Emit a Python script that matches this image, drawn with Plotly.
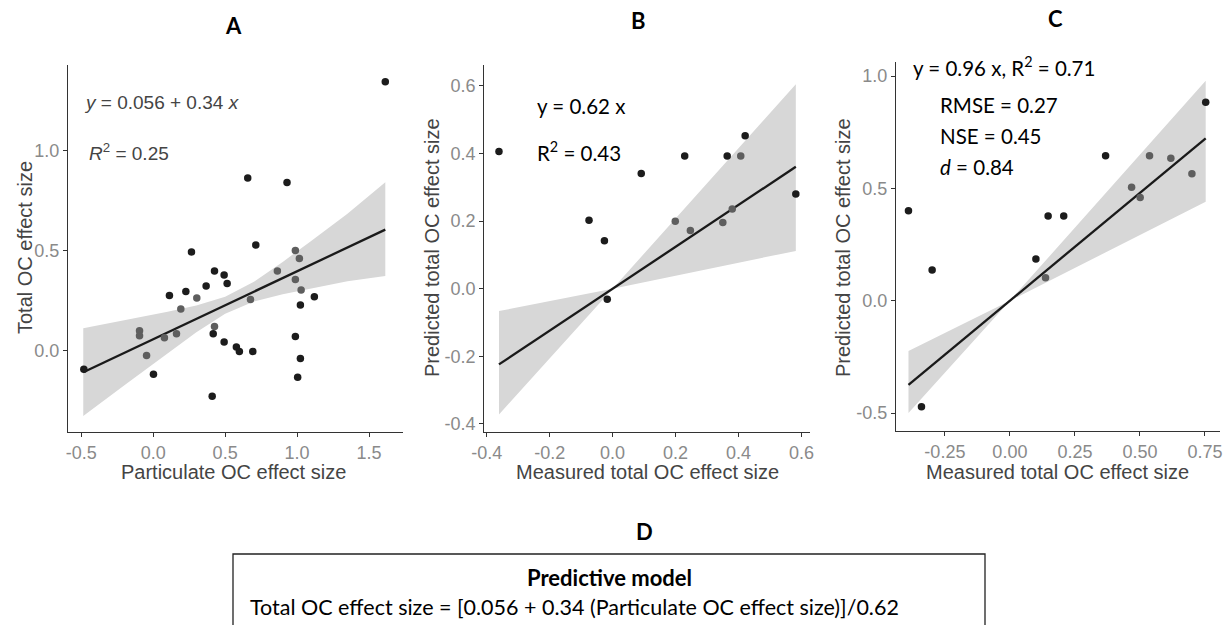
import plotly.graph_objects as go

W, H = 1226, 625

# ---------------- data ----------------
# Panel A: Total OC vs particulate OC
a_black_x = [0.657, 0.93, 0.713, 0.266, 0.426, 0.493, 0.514, 0.368, 0.227, 0.113, 1.12, 1.023,
             0.417, 0.988, 0.493, 0.578, 0.599, 0.692, 1.023, 0.002, 1.004, 0.41, -0.482, 1.613]
a_black_y = [0.863, 0.84, 0.527, 0.493, 0.398, 0.377, 0.335, 0.322, 0.295, 0.275, 0.268, 0.227,
             0.083, 0.07, 0.042, 0.017, -0.005, -0.005, -0.04, -0.12, -0.135, -0.23, -0.095, 1.345]
a_gray_x = [0.988, 1.016, 0.863, 0.988, 1.028, 0.303, 0.676, 0.192, 0.426, -0.095, -0.095, 0.162, 0.078, -0.046]
a_gray_y = [0.50, 0.46, 0.398, 0.355, 0.302, 0.262, 0.255, 0.207, 0.12, 0.098, 0.073, 0.083, 0.063, -0.025]
a_intercept, a_slope = 0.056, 0.34
a_line_x = [-0.486, 1.613]
a_band_x = [-0.486, -0.2, 0.1, 0.3, 0.5, 0.7, 0.9, 1.1, 1.35, 1.613]
a_band_up = [0.111, 0.151, 0.194, 0.225, 0.268, 0.343, 0.443, 0.549, 0.684, 0.842]
a_band_lo = [-0.329, -0.175, -0.014, 0.091, 0.184, 0.245, 0.281, 0.311, 0.346, 0.372]

# Panel B: predicted vs measured total OC
b_black_x = [-0.361, -0.075, -0.026, -0.017, 0.091, 0.229, 0.364, 0.421, 0.582]
b_black_y = [0.406, 0.203, 0.142, -0.031, 0.341, 0.393, 0.393, 0.453, 0.28]
b_gray_x = [0.199, 0.247, 0.35, 0.38, 0.407]
b_gray_y = [0.20, 0.172, 0.196, 0.236, 0.393]
b_slope = 0.62
b_line_x = [-0.361, 0.582]
b_band_x = [-0.361, 0.0, 0.582]
b_band_up = [-0.066, 0.0, 0.605]
b_band_lo = [-0.372, 0.0, 0.112]

# Panel C: predicted vs measured total OC (validation)
c_black_x = [-0.39, -0.299, 0.10, 0.147, 0.207, 0.368, 0.753, -0.34]
c_black_y = [0.40, 0.137, 0.186, 0.377, 0.377, 0.645, 0.884, -0.472]
c_gray_x = [0.137, 0.468, 0.501, 0.537, 0.619, 0.70]
c_gray_y = [0.102, 0.505, 0.46, 0.645, 0.634, 0.565]
c_slope = 0.96
c_line_x = [-0.39, 0.753]
c_band_x = [-0.39, 0.0, 0.753]
c_band_up = [-0.224, 0.0, 0.979]
c_band_lo = [-0.50, 0.0, 0.44]

# tick labels
a_xticks = [-0.5, 0.0, 0.5, 1.0, 1.5]
a_xtext = ["-0.5", "0.0", "0.5", "1.0", "1.5"]
a_yticks = [0.0, 0.5, 1.0]
a_ytext = ["0.0", "0.5", "1.0"]
b_xticks = [-0.4, -0.2, 0.0, 0.2, 0.4, 0.6]
b_xtext = ["-0.4", "-0.2", "0.0", "0.2", "0.4", "0.6"]
b_yticks = [-0.4, -0.2, 0.0, 0.2, 0.4, 0.6]
b_ytext = ["-0.4", "-0.2", "0.0", "0.2", "0.4", "0.6"]
c_xticks = [-0.25, 0.0, 0.25, 0.5, 0.75]
c_xtext = ["-0.25", "0.00", "0.25", "0.50", "0.75"]
c_yticks = [-0.5, 0.0, 0.5, 1.0]
c_ytext = ["-0.5", "0.0", "0.5", "1.0"]

# ---------------- styles ----------------
BLACK = "#1c1c1c"
GRAY = "#5e5e5e"
BAND = "#d7d7d7"
LINE = "#1a1a1a"
MS = 7.5
SANS = "Liberation Sans, Arial, sans-serif"
CAL = "Lato, Open Sans, sans-serif"

fig = go.Figure()


def add_panel(xa, ya, band_x, band_up, band_lo, line_x, line_y, bx, by, gx, gy):
    fig.add_trace(go.Scatter(x=band_x + band_x[::-1], y=band_up + band_lo[::-1], fill="toself",
                             fillcolor=BAND, line=dict(width=0), mode="lines",
                             hoverinfo="skip", showlegend=False, xaxis=xa, yaxis=ya))
    fig.add_trace(go.Scatter(x=line_x, y=line_y, mode="lines", line=dict(color=LINE, width=2.3),
                             showlegend=False, xaxis=xa, yaxis=ya))
    fig.add_trace(go.Scatter(x=gx, y=gy, mode="markers", marker=dict(color=GRAY, size=MS),
                             showlegend=False, xaxis=xa, yaxis=ya))
    fig.add_trace(go.Scatter(x=bx, y=by, mode="markers", marker=dict(color=BLACK, size=MS),
                             showlegend=False, xaxis=xa, yaxis=ya))


add_panel("x", "y", a_band_x, a_band_up, a_band_lo, a_line_x,
          [a_intercept + a_slope * v for v in a_line_x], a_black_x, a_black_y, a_gray_x, a_gray_y)
add_panel("x2", "y2", b_band_x, b_band_up, b_band_lo, b_line_x,
          [b_slope * v for v in b_line_x], b_black_x, b_black_y, b_gray_x, b_gray_y)
add_panel("x3", "y3", c_band_x, c_band_up, c_band_lo, c_line_x,
          [c_slope * v for v in c_line_x], c_black_x, c_black_y, c_gray_x, c_gray_y)


def px2x(px):
    return px / W


def px2y(py):
    return 1 - py / H


def axis(dom, rng, tv, tt, anchor):
    return dict(domain=dom, range=rng, tickvals=tv, ticktext=tt, showgrid=False, zeroline=False,
                showline=True, linecolor="#333333", linewidth=1.4, ticks="outside", ticklen=4,
                tickcolor="#333333", tickwidth=1.2, anchor=anchor, automargin=False,
                tickfont=dict(family=SANS, size=18, color="#8a8a8a"), mirror=False, fixedrange=True)


fig.update_layout(
    width=W, height=H, margin=dict(l=0, r=0, t=0, b=0, pad=0), autosize=False,
    paper_bgcolor="white", plot_bgcolor="white", showlegend=False,
    xaxis=axis([px2x(68), px2x(403)], [-0.592, 1.736], a_xticks, a_xtext, "y"),
    yaxis=axis([px2y(432), px2y(65)], [-0.4085, 1.4285], a_yticks, a_ytext, "x"),
    xaxis2=axis([px2x(484.3), px2x(810)], [-0.4076, 0.627], b_xticks, b_xtext, "y2"),
    yaxis2=axis([px2y(431.7), px2y(65)], [-0.423, 0.662], b_yticks, b_ytext, "x2"),
    xaxis3=axis([px2x(896), px2x(1220)], [-0.438, 0.808], c_xticks, c_xtext, "y3"),
    yaxis3=axis([px2y(431), px2y(61.7)], [-0.58, 1.064], c_yticks, c_ytext, "x3"),
)

ann = []


def txt(text, px, py, size, family, color="#000000", xanchor="left", angle=0):
    ann.append(dict(text=text, x=px2x(px), y=px2y(py), xref="paper", yref="paper",
                    xanchor=xanchor, yanchor="middle", showarrow=False, textangle=angle,
                    font=dict(family=family, size=size, color=color)))


# panel titles
txt("<b>A</b>", 233, 25, 22, CAL, xanchor="center")
txt("<b>B</b>", 638, 20, 22, CAL, xanchor="center")
txt("<b>C</b>", 1055, 18, 22, CAL, xanchor="center")
txt("<b>D</b>", 644, 531, 22, CAL, xanchor="center")

# axis titles
AT = "#444444"
txt("Particulate OC effect size", 233, 472, 20, SANS, AT, "center")
txt("Total OC effect size", 25, 248, 20, SANS, AT, "center", -90)
txt("Measured total OC effect size", 647, 472, 20, SANS, AT, "center")
txt("Predicted total OC effect size", 432, 248, 20, SANS, AT, "center", -90)
txt("Measured total OC effect size", 1057, 472, 20, SANS, AT, "center")
txt("Predicted total OC effect size", 843, 248, 20, SANS, AT, "center", -90)

# in-panel annotations
txt("<i>y</i> = 0.056 + 0.34 <i>x</i>", 82, 102, 19, SANS, "#444444")
txt("<i>R</i><sup>2</sup> = 0.25", 87, 152, 19, SANS, "#444444")
txt("y = 0.62 x", 535, 106, 20.5, CAL)
txt("R<sup>2</sup> = 0.43", 535, 152, 20.5, CAL)
txt("y = 0.96 x, R<sup>2</sup> = 0.71", 911, 66, 20.5, CAL)
txt("RMSE = 0.27", 938, 105, 20.5, CAL)
txt("NSE = 0.45", 938, 136, 20.5, CAL)
txt("<i>d</i> = 0.84", 938, 167, 20.5, CAL)

# table D
txt("<b>Predictive model</b>", 609, 577, 22, CAL, xanchor="center")
txt("Total OC effect size = [0.056 + 0.34 (Particulate OC effect size)]/0.62", 248, 607, 21.5, CAL)

fig.update_layout(annotations=ann)
fig.add_shape(type="rect", xref="paper", yref="paper", x0=px2x(233), x1=px2x(985),
              y0=px2y(700), y1=px2y(554), line=dict(color="#222222", width=1.3))

fig.write_html("out.html")
